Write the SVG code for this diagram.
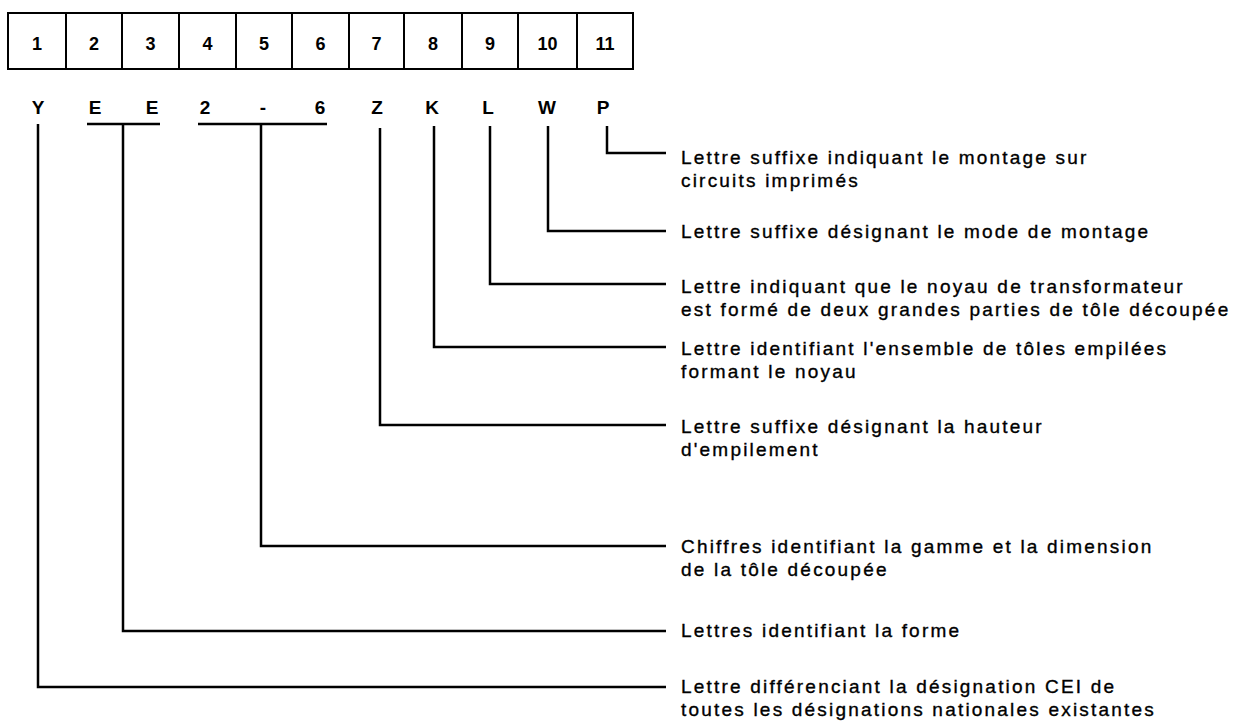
<svg xmlns="http://www.w3.org/2000/svg" width="1235" height="727" viewBox="0 0 1235 727">
<style>
.box{fill:#fff;stroke:#000;stroke-width:2}
.num{font-family:"Liberation Sans",Arial,sans-serif;font-size:18px;font-weight:bold;text-anchor:middle;fill:#000}
.let{font-family:"Liberation Sans",Arial,sans-serif;font-size:19px;font-weight:bold;text-anchor:middle;fill:#000}
.desc{font-family:"Liberation Sans",Arial,sans-serif;font-size:19px;letter-spacing:2.2px;fill:#000;stroke:#000;stroke-width:0.35}
.ln{fill:none;stroke:#000;stroke-width:2.5}
</style>
<rect width="1235" height="727" fill="#fff"/>
<g id="boxes">
<rect class="box" x="8" y="13" width="58" height="56"/>
<rect class="box" x="66" y="13" width="56" height="56"/>
<rect class="box" x="122" y="13" width="57" height="56"/>
<rect class="box" x="179" y="13" width="57" height="56"/>
<rect class="box" x="236" y="13" width="56" height="56"/>
<rect class="box" x="292" y="13" width="57" height="56"/>
<rect class="box" x="349" y="13" width="55" height="56"/>
<rect class="box" x="404" y="13" width="58" height="56"/>
<rect class="box" x="462" y="13" width="56" height="56"/>
<rect class="box" x="518" y="13" width="59" height="56"/>
<rect class="box" x="577" y="13" width="56" height="56"/>
<text class="num" x="37" y="50">1</text>
<text class="num" x="94" y="50">2</text>
<text class="num" x="150.5" y="50">3</text>
<text class="num" x="207.5" y="50">4</text>
<text class="num" x="264" y="50">5</text>
<text class="num" x="320.5" y="50">6</text>
<text class="num" x="376.5" y="50">7</text>
<text class="num" x="433" y="50">8</text>
<text class="num" x="490" y="50">9</text>
<text class="num" x="547.5" y="50">10</text>
<text class="num" x="605" y="50">11</text>
</g>
<g id="letters">
<text class="let" x="38" y="114">Y</text>
<text class="let" x="95" y="114">E</text>
<text class="let" x="152" y="114">E</text>
<text class="let" x="205" y="114">2</text>
<text class="let" x="263" y="114">-</text>
<text class="let" x="320" y="114">6</text>
<text class="let" x="377" y="114">Z</text>
<text class="let" x="432" y="114">K</text>
<text class="let" x="488" y="114">L</text>
<text class="let" x="547" y="114">W</text>
<text class="let" x="603" y="114">P</text>
</g>
<g id="connectors">
<path class="ln" d="M607 126 V153 H666"/>
<path class="ln" d="M548 126 V231 H666"/>
<path class="ln" d="M490 126 V284 H666"/>
<path class="ln" d="M434 126 V347 H666"/>
<path class="ln" d="M380 128 V425 H666"/>
<path class="ln" d="M198 124 H327 M261 124 V546 H666"/>
<path class="ln" d="M87 124 H160 M123 124 V631 H666"/>
<path class="ln" d="M38 124 V687 H666"/>
</g>
<g id="desc-P"><text class="desc" x="681" y="164">Lettre suffixe indiquant le montage sur</text><text class="desc" x="681" y="187">circuits imprimés</text></g>
<g id="desc-W"><text class="desc" x="681" y="238">Lettre suffixe désignant le mode de montage</text></g>
<g id="desc-L"><text class="desc" x="681" y="293">Lettre indiquant que le noyau de transformateur</text><text class="desc" x="681" y="316">est formé de deux grandes parties de tôle découpée</text></g>
<g id="desc-K"><text class="desc" x="681" y="355">Lettre identifiant l'ensemble de tôles empilées</text><text class="desc" x="681" y="378">formant le noyau</text></g>
<g id="desc-Z"><text class="desc" x="681" y="433">Lettre suffixe désignant la hauteur</text><text class="desc" x="681" y="456">d'empilement</text></g>
<g id="desc-26"><text class="desc" x="681" y="553">Chiffres identifiant la gamme et la dimension</text><text class="desc" x="681" y="576">de la tôle découpée</text></g>
<g id="desc-EE"><text class="desc" x="681" y="637">Lettres identifiant la forme</text></g>
<g id="desc-Y"><text class="desc" x="681" y="693">Lettre différenciant la désignation CEI de</text><text class="desc" x="681" y="716">toutes les désignations nationales existantes</text></g>
</svg>
